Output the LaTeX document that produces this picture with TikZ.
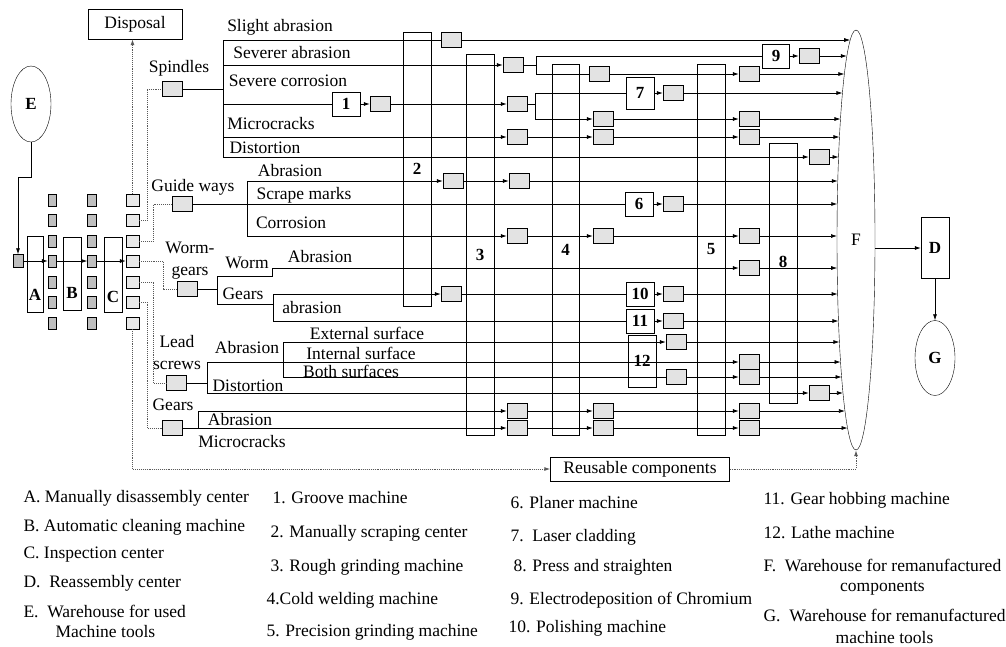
\documentclass[tikz,border=0pt]{standalone}
\usepackage{fontspec}
\setmainfont{Liberation Serif}
\usetikzlibrary{arrows.meta,shapes,positioning}
\newcommand\lbl{\fontsize{17.5}{20}\selectfont}
\newcommand\numf{\fontsize{17}{19}\selectfont\bfseries}
\tikzset{
  gbox/.style={draw, fill=gray!22, minimum width=20pt, minimum height=15pt, inner sep=0pt},
  sbox/.style={draw, fill=gray!50, minimum width=8pt, minimum height=12pt, inner sep=0pt},
  cbox/.style={draw, fill=gray!18, minimum width=13pt, minimum height=12pt, inner sep=0pt},
  numbox/.style={draw, minimum width=28pt, minimum height=24pt, inner sep=0pt, font=\numf},
  tallbox/.style={draw, minimum width=28pt, inner sep=0pt},
  stage/.style={draw, inner sep=0pt},
  store/.style={draw, ellipse, inner sep=0pt},
  flow/.style={line width=0.7pt},
  link/.style={line width=0.9pt, black!65, densely dotted},
  >={Latex[length=6pt,width=4pt]}
}

\begin{document}
\begin{tikzpicture}[x=1pt,y=-1pt]
\tikzstyle{every node}=[font=\lbl]
\useasboundingbox (0,0) rectangle (1006,646);

% warehouses and stages
\node[store, minimum width=40pt, minimum height=76pt, font=\numf] (E) at (31,104) {E};
\node[draw, minimum width=94pt, minimum height=30pt] (disp) at (135,24) {Disposal};
\node[sbox, minimum width=10pt, minimum height=13pt] (in) at (18,261) {};
\node[stage, minimum width=16pt, minimum height=76pt, label={[font=\numf,yshift=-21pt]center:A}] (A) at (35,274) {};
\node[stage, minimum width=18pt, minimum height=73pt, label={[font=\numf,yshift=-19pt]center:B}] (B) at (72,273.5) {};
\node[stage, minimum width=18pt, minimum height=75pt, label={[font=\numf,yshift=-22pt]center:C}] (C) at (113,274.5) {};
\foreach \i/\y in {1/200,2/220,3/241,4/261,5/282,6/302,7/323}{
  \node[sbox] (sa\i) at (52,\y) {};
  \node[sbox, minimum width=9pt] (sb\i) at (92,\y) {};
  \node[cbox] (c\i) at (132.5,\y) {};
}
\draw[flow,->] (E.south) -- ++(0,35) -| (in);
\draw[flow,->] (in) -- (sa4);
\draw[flow,->] (sa4) -- (sb4);
\draw[flow,->] (sb4) -- (c4);

% machines
\node[tallbox, minimum height=274pt, label={[font=\numf]center:2}] (m2) at (417,169) {};
\node[tallbox, minimum height=381pt, label={[font=\numf,yshift=-10pt]center:3}] (m3) at (480,244.5) {};
\node[tallbox, minimum width=27pt, minimum height=371pt, label={[font=\numf]center:4}] (m4) at (565.5,249.5) {};
\node[tallbox, minimum height=371pt, label={[font=\numf]center:5}] (m5) at (711,249.5) {};
\node[tallbox, minimum height=260pt, label={[font=\numf,yshift=11pt]center:8}] (m8) at (783,273) {};
\node[numbox] (n1) at (346,104) {1};
\node[numbox, minimum height=32pt] (n7) at (640,93) {7};
\node[numbox, minimum width=27pt] (n9) at (776,56) {9};
\node[numbox] (n6) at (639,204) {6};
\node[numbox] (n10) at (640,294) {10};
\node[numbox] (n11) at (640,321) {11};
\node[numbox, minimum height=52pt] (n12) at (642,361) {12};

\node[store, minimum width=38pt, minimum height=420pt] (F) at (856,240) {F};
\node[draw, minimum width=28pt, minimum height=61pt, font=\numf] (D) at (935,248) {D};
\node[store, minimum width=40pt, minimum height=75pt, font=\numf] (G) at (935,358) {G};
\node[draw, minimum width=179pt, minimum height=24pt] (reuse) at (640,469) {Reusable components};
\draw[flow,->] (F.east |- D.west) -- (D);
\draw[flow,->] (D) -- (G);
\foreach \y in {40,56,74,93,119,137,157,181,204,236,268,294,321,342,362,377,393,411,428}
  \coordinate (F\y) at ({856-19*sqrt(1-((\y-240)/210)*((\y-240)/210))},\y);

% component classes
\node[gbox] (spd) at (172,89) {};
\node[gbox] (gw) at (182,204) {};
\node[gbox] (wg) at (187,289) {};
\node[gbox] (ls) at (176,383) {};
\node[gbox] (gr) at (172,428) {};
\node at (179,68) {Spindles};
\node at (193,187) {Guide ways};
\node[align=center] at (190,261) {Worm-\\[2pt]gears};
\node[align=center] at (177,353) {Lead\\[2pt]screws};
\node at (173,405) {Gears};

\draw[link,->] (c1) -- (c1 |- disp.south);
\draw[link] (c2.east) -- ++(8,0) |- (spd);
\draw[link] (c3.east) -- ++(14,0) |- (gw);
\draw[link] (c4.east) -- ++(24,0) |- (wg);
\draw[link] (c5.east) -- ++(14,0) |- (ls);
\draw[link] (c6.east) -- ++(8,0) |- (gr);
\draw[link,->] (c7) |- (reuse);
\draw[link,->] (reuse) -| (F);

% buffers
\foreach \n/\x/\y in {g11/451/40, g21/513/65, g22/809/56, g23/599/74, g24/749/74,
  g31/380/104, g32/517/104, g33/673/93, g34/603/119, g35/749/119,
  g41/517/137, g42/603/137, g43/749/137, g51/819/157,
  g61/453/181, g62/519/181, g71/673/204, g81/517/236, g82/603/236, g83/749/236,
  g91/749/268, g101/451/294, g102/673/294, g111/673/321,
  g121/676/342, g131/749/362, g141/676/377, g142/749/377, g151/819/393,
  g161/517/411, g162/603/411, g163/749/411, g171/517/428, g172/603/428, g173/749/428}
  \node[gbox] (\n) at (\x,\y) {};

% spindles
\coordinate (sp1) at (223,40);
\coordinate (sp2) at (223,65);
\coordinate (sp3) at (223,104);
\coordinate (sp4) at (223,137);
\coordinate (sp5) at (223,157);
\coordinate (j2) at (536,56);
\coordinate (j3) at (535,93);
\draw[flow] (spd) -- (spd -| sp1);
\draw[flow] (sp1) -- (sp5);
\node at (280,27) {Slight abrasion};
\node at (292,53) {Severer abrasion};
\node at (288,81) {Severe corrosion};
\node at (271,124) {Microcracks};
\node at (265,148) {Distortion};
\draw[flow] (sp1) -- (g11);
\draw[flow,->] (g11) -- (F40);
\draw[flow,->] (sp2) -- (g21);
\draw[flow] (g21) -| (j2) -- (n9);
\draw[flow] (j2) |- (g23);
\draw[flow,->] (n9) -- (g22);
\draw[flow,->] (g22) -- (F56);
\draw[flow,->] (g23) -- (g24);
\draw[flow,->] (g24) -- (F74);
\draw[flow] (sp3) -- (n1);
\draw[flow,->] (n1) -- (g31);
\draw[flow,->] (g31) -- (g32);
\draw[flow] (g32) -| (j3) -- (n7);
\draw[flow,->] (j3) |- (g34);
\draw[flow,->] (n7) -- (g33);
\draw[flow,->] (g33) -- (F93);
\draw[flow,->] (g34) -- (g35);
\draw[flow,->] (g35) -- (F119);
\draw[flow,->] (sp4) -- (g41);
\draw[flow,->] (g41) -- (g42);
\draw[flow,->] (g42) -- (g43);
\draw[flow,->] (g43) -- (F137);
\draw[flow,->] (sp5) -- (g51);
\draw[flow,->] (g51) -- (F157);

% guide ways
\coordinate (gw1) at (247,181);
\coordinate (gw2) at (247,204);
\coordinate (gw3) at (247,236);
\draw[flow] (gw) -- (gw2);
\draw[flow] (gw1) -- (gw3);
\node at (290,171) {Abrasion};
\node at (304,195) {Scrape marks};
\node at (291,223) {Corrosion};
\draw[flow,->] (gw1) -- (g61);
\draw[flow,->] (g61) -- (g62);
\draw[flow,->] (g62) -- (F181);
\draw[flow] (gw2) -- (n6);
\draw[flow,->] (n6) -- (g71);
\draw[flow,->] (g71) -- (F204);
\draw[flow,->] (gw3) -- (g81);
\draw[flow,->] (g81) -- (g82);
\draw[flow,->] (g82) -- (g83);
\draw[flow,->] (g83) -- (F236);

% worm gears
\coordinate (wg1) at (217,276);
\coordinate (wg2) at (217,289);
\coordinate (wg3) at (217,304);
\coordinate (wm) at (272,268);
\coordinate (ge1) at (273,294);
\coordinate (ge2) at (273,321);
\draw[flow] (wg) -- (wg2);
\draw[flow] (wg1) -- (wg3);
\node at (247,263) {Worm};
\node at (320,257) {Abrasion};
\node at (243,294) {Gears};
\node at (312,308) {abrasion};
\draw[flow,->] (wg1) -| (wm) -- (g91);
\draw[flow,->] (g91) -- (F268);
\draw[flow] (wg3) -- (wg3 -| ge1);
\draw[flow] (ge1) -- (ge2);
\draw[flow,->] (ge1) -- (g101);
\draw[flow] (g101) -- (n10);
\draw[flow,->] (n10) -- (g102);
\draw[flow,->] (g102) -- (F294);
\draw[flow] (ge2) -- (n11);
\draw[flow,->] (n11) -- (g111);
\draw[flow,->] (g111) -- (F321);

% lead screws
\coordinate (ls1) at (207,362);
\coordinate (ls2) at (207,383);
\coordinate (ls3) at (207,393);
\coordinate (ab1) at (283,342);
\coordinate (ab2) at (283,362);
\coordinate (ab3) at (283,377);
\draw[flow] (ls) -- (ls2);
\draw[flow] (ls1) -- (ls3);
\draw[flow] (ls1) -- (ab2);
\draw[flow] (ab1) -- (ab3);
\node at (247,348) {Abrasion};
\node at (367,333) {External surface};
\node at (361,353) {Internal surface};
\node at (351,371) {Both surfaces};
\node at (248,386) {Distortion};
\draw[flow,->] (ab1) -- (g121);
\draw[flow,->] (g121) -- (F342);
\draw[flow,->] (ab2) -- (g131);
\draw[flow,->] (g131) -- (F362);
\draw[flow] (ab3) -- (g141);
\draw[flow,->] (g141) -- (g142);
\draw[flow,->] (g142) -- (F377);
\draw[flow,->] (ls3) -- (g151);
\draw[flow,->] (g151) -- (F393);

% gears
\coordinate (gr1) at (198,411);
\coordinate (gr2) at (198,428);
\draw[flow] (gr) -- (gr2);
\draw[flow] (gr1) -- (gr2);
\node at (240,420) {Abrasion};
\node at (242,442) {Microcracks};
\draw[flow,->] (gr1) -- (g161);
\draw[flow,->] (g161) -- (g162);
\draw[flow,->] (g162) -- (g163);
\draw[flow,->] (g163) -- (F411);
\draw[flow,->] (gr2) -- (g171);
\draw[flow,->] (g171) -- (g172);
\draw[flow,->] (g172) -- (g173);
\draw[flow,->] (g173) -- (F428);

% legend
\node[anchor=west] at (20,498) {A. Manually disassembly center};
\node[anchor=west] at (20,527) {B. Automatic cleaning machine};
\node[anchor=west] at (20,555) {C. Inspection center};
\node[anchor=west] at (20,583) {D.\ \ Reassembly center};
\node[anchor=north west, align=left] at (20,602) {E.\ \ Warehouse for used\\\hspace{32pt}Machine tools};
\node[anchor=west] at (269,498) {1. Groove machine};
\node[anchor=west] at (267,533) {2. Manually scraping center};
\node[anchor=west] at (267,567) {3. Rough grinding machine};
\node[anchor=west] at (263,600) {4.Cold welding machine};
\node[anchor=west] at (263,632) {5. Precision grinding machine};
\node[anchor=west] at (507,503) {6. Planer machine};
\node[anchor=west] at (507,537) {7.\ \ Laser cladding};
\node[anchor=west] at (510,567) {8. Press and straighten};
\node[anchor=west] at (507,600) {9. Electrodeposition of Chromium};
\node[anchor=west] at (505,628) {10. Polishing machine};
\node[anchor=west] at (760,500) {11. Gear hobbing machine};
\node[anchor=west] at (760,533) {12. Lathe machine};
\node[anchor=north west, align=center] at (760,556) {F.\ \ Warehouse for remanufactured\\components};
\node[anchor=north west, align=center] at (760,606) {G.\ \ Warehouse for remanufactured\\[2pt]machine tools};
\end{tikzpicture}
\end{document}
